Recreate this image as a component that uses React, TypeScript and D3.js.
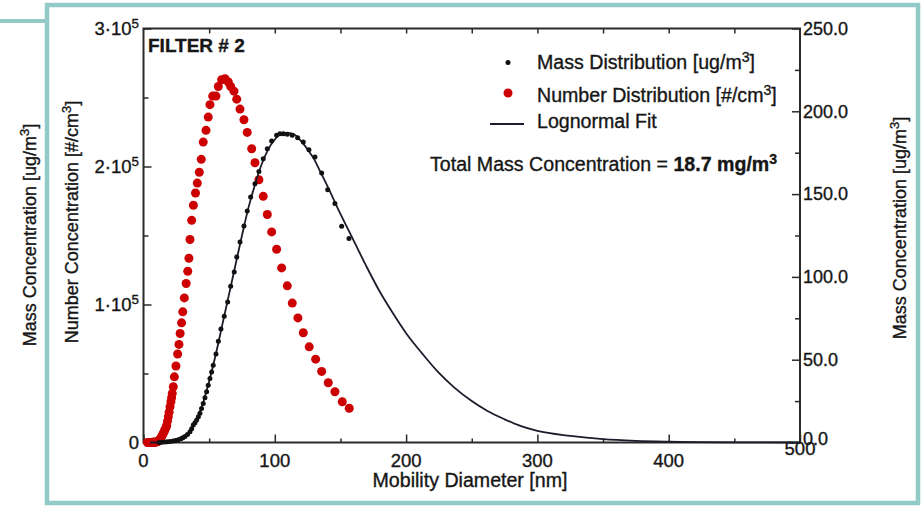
import * as d3 from 'd3';
import React, { useEffect, useRef } from 'react';

// number distribution (red), diameter in nm, #/cm3
const numberDiam = [3.0, 3.6, 4.2, 4.8, 5.4, 6.0, 6.6, 7.2, 7.8, 8.4, 9.0, 9.6, 10.2, 10.8, 11.4, 12.0, 12.6,
  13.2, 13.8, 14.4, 15.1, 15.8, 16.5, 17.2, 17.7, 18.3, 18.9, 19.5, 20.2, 20.9, 21.4, 21.9, 22.7, 23.5, 24.7,
  26.0, 27.0, 27.9, 29.0, 29.9, 31.1, 32.5, 33.7, 34.6, 35.4, 36.7, 38.0, 39.6, 41.0, 42.5, 44.0, 45.5, 47.6,
  49.3, 50.6, 52.7, 55.2, 57.0, 59.5, 62.1, 64.6, 66.4, 68.9, 71.0, 73.5, 76.5, 79.0, 82.4, 84.9, 87.9, 91.2,
  94.3, 97.6, 101.4, 105.2, 109.5, 113.3, 117.6, 121.7, 126.2, 131.1, 135.7, 140.7, 145.8, 151.4, 156.7];
const numberConc = [0, 0, 0, 0, 0, 0, 100, 100, 200, 200, 300, 400, 500, 700, 1000, 1500, 2400,
  3300, 4300, 5400, 6700, 8000, 9600, 11000, 12500, 15500, 18700, 22000, 25900, 29500, 32500, 35600, 40400, 47600, 55400,
  64100, 71100, 79000, 86700, 94700, 104800, 115200, 124100, 133500, 147100, 161000, 171900, 180800, 188000, 195800, 205200, 217700, 226200,
  235800, 244800, 251000, 251000, 258000, 262900, 263600, 261200, 258000, 254600, 248800, 241600, 233900, 224700, 212900, 202700, 190400, 178400,
  165200, 152600, 140000, 126500, 113500, 101000, 90300, 79500, 69300, 60400, 51500, 43300, 36800, 29500, 24800];

// mass distribution (black), ug/m3
const massDiam = [12.0, 14.0, 16.4, 18.3, 20.2, 22.5, 24.5, 26.5, 28.5, 30.0, 31.6, 33.5, 35.4, 36.7, 37.9, 39.2,
  40.5, 41.8, 43.0, 44.2, 45.5, 46.8, 48.1, 49.3, 50.6, 51.9, 53.1, 55.2, 57.0, 59.0, 61.5, 64.1, 66.4, 69.1,
  71.0, 73.5, 76.5, 79.0, 81.6, 84.9, 87.9, 91.2, 94.3, 97.6, 101.4, 103.9, 106.5, 109.5, 113.3, 117.4, 121.7,
  126.0, 130.6, 135.7, 140.3, 145.8, 150.9, 156.5];
const massConc = [0, 0.2, 0.3, 0.4, 0.6, 0.9, 1.2, 1.6, 2.2, 2.8, 3.6, 4.8, 6.5, 8.3, 10.6, 12.0,
  13.6, 15.5, 17.6, 20.5, 23.6, 27.0, 30.6, 34.5, 38.7, 42.6, 46.7, 53.4, 61.2, 68.5, 76.3, 84.9, 94.4, 103.0,
  112.0, 121.1, 130.7, 139.8, 148.2, 156.3, 163.7, 171.4, 177.4, 182.0, 185.5, 186.5, 186.5, 186.1, 185.5, 184.1, 181.4,
  176.8, 172.4, 162.7, 152.7, 144.3, 130.6, 123.2];

// lognormal fit line
const fitDiam = [5, 15, 20, 25, 30, 35, 40, 45, 50, 55, 60, 65, 70, 75, 80, 85, 90, 95, 100, 105, 110, 115, 120,
  125, 130, 135, 140, 150, 160, 170, 180, 190, 200, 212, 225, 237, 250, 262, 275, 287, 300, 325, 350, 375, 400, 450, 500];
const fitConc = [0, 0.1, 0.5, 1.3, 3, 6.3, 13, 23, 37, 53, 71, 89, 107, 125, 142, 156, 168, 177, 183, 186.5, 187, 186, 182,
  177, 171, 163, 155, 138, 122, 106, 91, 78, 66, 54, 42, 33, 25, 19, 14, 10, 7, 4, 2, 1, 0.5, 0.1, 0];

const xTicks = [0, 100, 200, 300, 400, 500];
const xMinorTicks = [50, 150, 250, 350, 450];
const topTicks = [50, 100, 150, 200, 250, 300, 350, 400, 450];
const leftTicks = [0, 100000, 200000, 300000];
const leftTickLabels = ['0', '1·10', '2·10', '3·10'];
const leftMinorTicks = [50000, 150000, 250000];
const rightTicks = [0, 50, 100, 150, 200, 250];
const rightMinorTicks = [25, 75, 125, 175, 225];

type Part = { t: string; sup?: boolean; bold?: boolean };

function rich(sel: any, parts: Part[]) {
  let up = false;
  parts.forEach((p) => {
    const ts = sel.append('tspan').text(p.t);
    if (p.sup) {
      ts.attr('font-size', '0.72em');
      if (!up) ts.attr('dy', -7);
      up = true;
    } else if (up) {
      ts.attr('dy', 7);
      up = false;
    }
    if (p.bold) ts.attr('font-weight', 'bold');
  });
}

export default function App() {
  const ref = useRef<SVGSVGElement>(null);

  useEffect(() => {
    const width = 922;
    const height = 506;
    const margin = { top: 28.5, right: 122, bottom: 63.5, left: 143.5 };
    const ink = '#2a2a2a';

    const svg = d3.select(ref.current);
    svg.selectAll('*').remove();

    const x = d3.scaleLinear().domain([0, 500]).range([margin.left, width - margin.right]);
    const yN = d3.scaleLinear().domain([0, 300000]).range([height - margin.bottom, margin.top]);
    const yM = d3.scaleLinear().domain([0, 250]).range([height - margin.bottom, margin.top]);

    // teal frame
    svg.append('line').attr('x1', 0).attr('x2', 47).attr('y1', 21).attr('y2', 21)
      .attr('stroke', '#92cac8').attr('stroke-width', 4);
    svg.append('rect').attr('x', 47).attr('y', 5).attr('width', 871).attr('height', 498)
      .attr('fill', 'none').attr('stroke', '#92cac8').attr('stroke-width', 4.5);

    const bottomY = height - margin.bottom;
    const rightX = width - margin.right;

    const noDomain = (g: any) => g.select('.domain').remove();
    const tickStyle = (g: any) => g.selectAll('line').attr('stroke', ink).attr('stroke-width', 1.5);

    svg.append('g').attr('transform', `translate(${margin.left},0)`)
      .call(d3.axisLeft(yN).tickValues(leftTicks).tickSize(-8).tickFormat(() => ''))
      .call(noDomain).call(tickStyle);
    svg.append('g').attr('transform', `translate(${margin.left},0)`)
      .call(d3.axisLeft(yN).tickValues(leftMinorTicks).tickSize(-5).tickFormat(() => ''))
      .call(noDomain).call(tickStyle);
    svg.append('g').attr('transform', `translate(${rightX},0)`)
      .call(d3.axisRight(yM).tickValues(rightTicks).tickSize(-8).tickFormat(() => ''))
      .call(noDomain).call(tickStyle);
    svg.append('g').attr('transform', `translate(${rightX},0)`)
      .call(d3.axisRight(yM).tickValues(rightMinorTicks).tickSize(-5).tickFormat(() => ''))
      .call(noDomain).call(tickStyle);
    svg.append('g').attr('transform', `translate(0,${bottomY})`)
      .call(d3.axisBottom(x).tickValues(xTicks).tickSize(-8).tickFormat(() => ''))
      .call(noDomain).call(tickStyle);
    svg.append('g').attr('transform', `translate(0,${bottomY})`)
      .call(d3.axisBottom(x).tickValues(xMinorTicks).tickSize(-4).tickFormat(() => ''))
      .call(noDomain).call(tickStyle);
    svg.append('g').attr('transform', `translate(0,${margin.top})`)
      .call(d3.axisTop(x).tickValues(topTicks).tickSize(-5).tickFormat(() => ''))
      .call(noDomain).call(tickStyle);

    // plot box
    svg.append('rect').attr('x', margin.left).attr('y', margin.top)
      .attr('width', rightX - margin.left).attr('height', bottomY - margin.top)
      .attr('fill', 'none').attr('stroke', ink).attr('stroke-width', 2);

    const font = 'Liberation Sans, Arial, Helvetica, sans-serif';
    const txt = svg.append('g').attr('font-family', font).attr('fill', '#161616')
      .attr('stroke', '#161616').attr('stroke-width', 0.35).attr('font-size', 18);

    // left tick labels
    leftTicks.forEach((v, i) => {
      const t = txt.append('text').attr('x', 139).attr('y', yN(v)).attr('dy', '0.35em').attr('text-anchor', 'end')
        .attr('font-size', 18.5);
      rich(t, i === 0 ? [{ t: '0' }] : [{ t: leftTickLabels[i] }, { t: '5', sup: true }]);
    });

    // right tick labels
    rightTicks.forEach((v) => {
      txt.append('text').attr('x', rightX + 3).attr('y', yM(v) + (v === 0 ? -4 : 0)).attr('dy', '0.35em')
        .text(v.toFixed(1));
    });

    // bottom tick labels
    xTicks.forEach((v) => {
      txt.append('text').attr('x', x(v)).attr('y', v === 500 ? 455 : 467).attr('text-anchor', 'middle')
        .attr('font-size', 18.5).text(String(v));
    });

    // axis titles
    txt.append('text').attr('x', 470).attr('y', 487).attr('text-anchor', 'middle').attr('font-size', 19.6)
      .text('Mobility Diameter [nm]');
    rich(txt.append('text').attr('transform', 'translate(36,235) rotate(-90)').attr('text-anchor', 'middle'),
      [{ t: 'Mass Concentration [ug/m' }, { t: '3', sup: true }, { t: ']' }]);
    rich(txt.append('text').attr('transform', 'translate(78,222) rotate(-90)').attr('text-anchor', 'middle'),
      [{ t: 'Number Concentration [#/cm' }, { t: '3', sup: true }, { t: ']' }]);
    rich(txt.append('text').attr('transform', 'translate(906,228) rotate(-90)').attr('text-anchor', 'middle'),
      [{ t: 'Mass Concentration [ug/m' }, { t: '3', sup: true }, { t: ']' }]);

    txt.append('text').attr('x', 148).attr('y', 52).attr('font-weight', 'bold').attr('font-size', 19)
      .text('FILTER # 2');

    // series
    const red = '#cc0000';
    svg.append('g').selectAll('circle').data(numberDiam).enter().append('circle')
      .attr('cx', (d) => x(d)).attr('cy', (d, i) => yN(numberConc[i])).attr('r', 4.5).attr('fill', red);

    const fitLine = d3.line<number>().x((d) => x(d)).y((d, i) => yM(fitConc[i])).curve(d3.curveMonotoneX);
    svg.append('path').attr('d', fitLine(fitDiam) as string).attr('fill', 'none')
      .attr('stroke', '#1c1c2c').attr('stroke-width', 1.8);

    svg.append('g').selectAll('circle').data(massDiam).enter().append('circle')
      .attr('cx', (d) => x(d)).attr('cy', (d, i) => yM(massConc[i])).attr('r', 2.5).attr('fill', '#111');

    // legend
    svg.append('circle').attr('cx', 508).attr('cy', 62.5).attr('r', 2.5).attr('fill', '#111');
    svg.append('circle').attr('cx', 508).attr('cy', 93).attr('r', 4.5).attr('fill', red);
    svg.append('line').attr('x1', 490).attr('x2', 524).attr('y1', 124).attr('y2', 124)
      .attr('stroke', '#1c1c2c').attr('stroke-width', 1.8);
    const leg = txt.append('g').attr('font-size', 19.6);
    rich(leg.append('text').attr('x', 537).attr('y', 69), [{ t: 'Mass Distribution [ug/m' }, { t: '3', sup: true }, { t: ']' }]);
    rich(leg.append('text').attr('x', 537).attr('y', 101.5), [{ t: 'Number Distribution [#/cm' }, { t: '3', sup: true }, { t: ']' }]);
    leg.append('text').attr('x', 537).attr('y', 128).text('Lognormal Fit');
    rich(leg.append('text').attr('x', 430).attr('y', 171), [
      { t: 'Total Mass Concentration = ' },
      { t: '18.7  mg/m', bold: true },
      { t: '3', sup: true, bold: true },
    ]);
  }, []);

  return (
    <svg ref={ref} width={922} height={506} style={{ position: 'absolute', left: 0, top: 0, background: '#fff' }} />
  );
}
